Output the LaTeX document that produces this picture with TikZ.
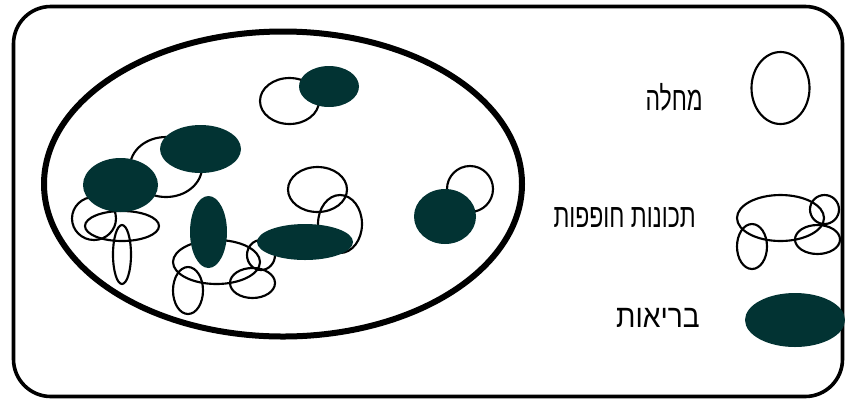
\documentclass[tikz,border=0pt]{standalone}
\usepackage{fontspec}
\TeXXeTstate=1
\newfontfamily\hebfont[Script=Hebrew, FakeStretch=0.69]{Liberation Sans}
\newfontfamily\hebwide[Script=Hebrew, FakeStretch=0.88]{Liberation Sans}
\definecolor{healthfill}{RGB}{2,51,51}
\begin{document}
\begin{tikzpicture}[x=0.75pt, y=-0.75pt,
		trait/.style={draw=black, line width=1.6pt},
		healthy/.style={fill=healthfill},
		label/.style={anchor=base east, inner sep=0pt}]
	\useasboundingbox (0,0) rectangle (845,401);
	% the frame and the population
	\draw[line width=2.7pt, rounded corners=28pt] (13.5,6.5) rectangle (842.5,396.5);
	\draw[line width=4.5pt] (283,184) ellipse [x radius=239, y radius=152.5];
	% overlapping traits, outlines first
	\foreach \cx/\cy/\rx/\ry in {289.5/101/29.5/23, 166/167/36/30, 94/218.5/22/21.5,
			122/226/37/15, 122/254.5/9/29.5, 216.5/262/43.5/22, 188/290.5/15/23.5,
			252.5/283/22.5/15, 261/255/14/15, 317.5/189.5/29.5/22.5, 340/224/22/29,
			470/189/23/23}
		\draw[trait] (\cx,\cy) ellipse [x radius=\rx, y radius=\ry];
	% health, on top
	\foreach \cx/\cy/\rx/\ry in {329/86.5/30/20.5, 200.5/149/40.5/24, 120.5/185/37.5/27,
			208.5/232/18.5/36, 305/242/48/18, 445/216.5/31/27.5}
		\fill[healthy] (\cx,\cy) ellipse [x radius=\rx, y radius=\ry];
	% legend
	\draw[trait] (780.5,88) ellipse [x radius=29, y radius=36];
	\node[label, font=\hebfont\fontsize{25}{25}\selectfont] (disease) at (703,110) {\beginR מחלה\endR};
	\draw[trait] (780.5,218) ellipse [x radius=43.5, y radius=23];
	\draw[trait] (824.5,209.5) ellipse [x radius=14.5, y radius=14.5];
	\draw[trait] (752,246.5) ellipse [x radius=15, y radius=22.5];
	\draw[trait] (817.5,239.5) ellipse [x radius=22.5, y radius=14.5];
	\node[label, font=\hebfont\fontsize{25}{25}\selectfont] (overlap) at (696,227) {\beginR תכונות חופפות\endR};
	\fill[healthy] (795,320) ellipse [x radius=50, y radius=27];
	\node[label, font=\hebwide\fontsize{24}{24}\selectfont] (health) at (700,327) {\beginR בריאות\endR};
\end{tikzpicture}
\end{document}
